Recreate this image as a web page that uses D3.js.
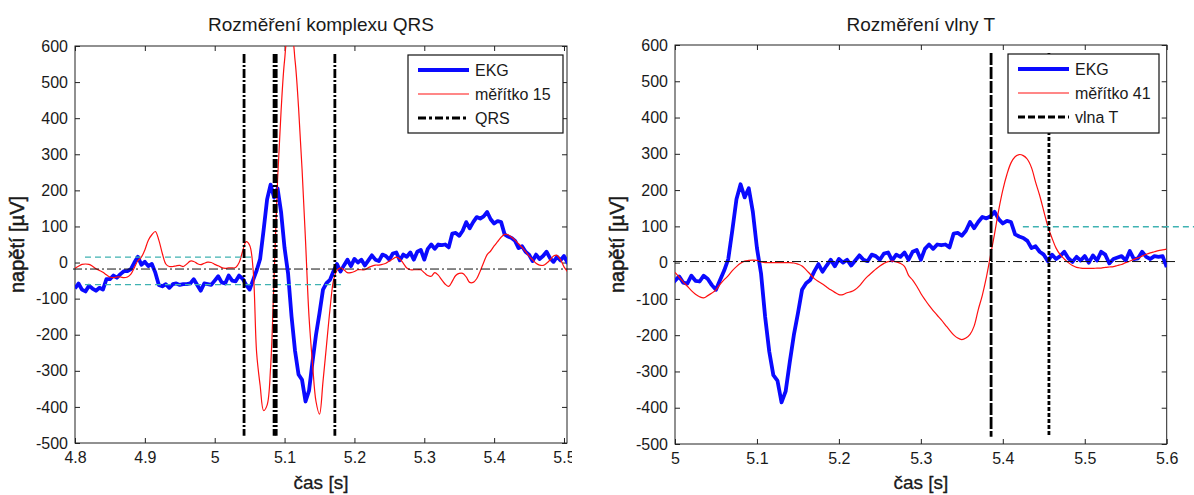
<!DOCTYPE html>
<html><head><meta charset="utf-8">
<script src="https://cdn.jsdelivr.net/npm/d3@7"></script>
<style>
body{margin:0;background:#fff}
svg{display:block}
text{font-family:"Liberation Sans",Arial,sans-serif;fill:#1a1a1a}
</style>
</head><body>
<svg id="chart" width="1194" height="495"></svg>
<script>
// ---------------- DATA ----------------
// EKG signal, sampled every 0.005 s from 4.800 s to 5.600 s (µV)
const ekgStart = 4.8;
const sampleStep = 0.005;
const ekg = [
  -72, -58, -75, -80, -64, -72, -78, -70, -75, -46,
  -46, -36, -42, -32, -24, -24, -18, 0, 16, -6,
  2, -10, -4, -28, -62, -66, -60, -70, -60, -58,
  -62, -60, -60, -58, -46, -62, -78, -58, -60, -62,
  -50, -38, -55, -58, -36, -50, -52, -36, -45, -62,
  -75, -48, -22, 10, 90, 175, 216, 180, 205, 140,
  40, -30, -150, -245, -310, -325, -385, -355, -275, -200,
  -140, -75, -57, -48, -24, -4, -25, -8, 8, -10,
  10, 0, 8, -8, 6, 20, 8, 4, 22, 18,
  8, 25, 28, 6, 22, 16, 28, 8, 30, 35,
  8, 38, 50, 38, 50, 48, 50, 42, 80, 82,
  74, 88, 112, 95, 112, 126, 122, 128, 140, 120,
  108, 115, 112, 78, 72, 68, 60, 40, 45, 30,
  22, 4, 22, 10, 18, 30, 12, 2, 16, 6,
  18, 0, 20, 6, 30, 22, -2, 10, 14, 18,
  6, 32, 10, 12, 30, 16, 10, 18, 16, 18,
  -12
];
// Wavelet detail "měřítko 15", every 0.005 s from 4.800 s
const scale15Start = 4.8;
const scale15 = [
  -16, -10, -5, -4, -5, -10, -17, -22, -27, -34,
  -40, -42, -40, -40, -42, -40, -32, -14, 5, 15,
  35, 62, 77, 86, 62, 25, -4, -11, -11, -9,
  -8, -11, -4, 4, 3, -3, -6, -2, 1, 0,
  -5, -9, -14, -16, -15, -15, -14, 0, 32, 58,
  48, -20, -250, -340, -410, -395, -290, -40, 230, 420,
  560, 625, 625, 560, 430, 260, 60, -150, -280, -385,
  -420, -330, -230, -130, -50, -22, -15, -20, -28, -28,
  -25, -20, -20, -20, -14, -10, -7, -7, -5, -2,
  4, 10, 15, 10, -2, -15, -20, -20, -20, -20,
  -28, -36, -38, -28, -35, -48, -60, -66, -52, -36,
  -30, -30, -40, -55, -55, -45, -24, 0, 22, 32,
  46, 58, 70, 78, 77, 70, 62, 52, 42, 30,
  18, 8, -2, -7, -8, -2, 7, 18, 20, 8,
  -12, -25
];
// Wavelet detail "měřítko 41", every 0.005 s from 5.000 s
const scale41Start = 5.0;
const scale41 = [
  -27, -40, -53, -65, -77, -87, -94, -97, -91, -84,
  -75, -60, -47, -36, -22, -11, -2, 4, 6, 7,
  6, 2, 0, 0, 0, 0, 0, 0, 0, -1,
  -4, -9, -20, -32, -44, -52, -59, -67, -75, -82,
  -88, -88, -83, -80, -74, -64, -50, -38, -28, -18,
  -9, -2, 3, 4, 2, -2, -10, -35, -48, -65,
  -85, -102, -118, -132, -145, -158, -172, -186, -199, -208,
  -212, -208, -198, -175, -130, -90, -40, 20, 80, 145,
  200, 243, 275, 292, 298, 295, 285, 262, 222, 185,
  142, 100, 68, 40, 22, 10, 0, -8, -13, -15,
  -16, -16, -16, -15, -15, -13, -12, -11, -8, -5,
  0, 4, 9, 13, 18, 23, 27, 30, 33, 35,
  37
];
// QRS boundaries (s) and T-wave boundaries (s)
const qrsMarks = [5.042, 5.085, 5.088, 5.172];
const tWaveMarks = [5.3857, 5.4563];
const markerSpan = [-480, 578];           // vertical extent of marker lines (µV)
// thresholds (cyan dashed) : [t start, t end, level µV]
const qrsThresholds = [[4.8143, 5.0577, 15], [4.8143, 5.1817, -61]];
const tThresholds = [[5.4245, 5.64, 99]];
const qrsBaseline = -18;                  // dash-dot reference level (µV)
const tBaseline = 3;
// axes
const yTicks = [600, 500, 400, 300, 200, 100, 0, -100, -200, -300, -400, -500];
const xTicksLeft = [4.8, 4.9, 5.0, 5.1, 5.2, 5.3, 5.4, 5.5];
const xTickLabelsLeft = ["4.8", "4.9", "5", "5.1", "5.2", "5.3", "5.4", "5.5"];
const xTicksRight = [5.0, 5.1, 5.2, 5.3, 5.4, 5.5, 5.6];
const xTickLabelsRight = ["5", "5.1", "5.2", "5.3", "5.4", "5.5", "5.6"];
const titles = ["Rozměření komplexu QRS", "Rozměření vlny T"];
const xLabel = "čas [s]";
const yLabel = "napětí [µV]";
const legendLeft = ["EKG", "měřítko 15", "QRS"];
const legendRight = ["EKG", "měřítko 41", "vlna T"];

// ---------------- DRAWING ----------------
const svg = d3.select("#chart");
const defs = svg.append("defs");

function series(start, values) {
  return values.map((v, i) => ({t: start + i * sampleStep, v}));
}

function drawPanel(o) {
  const root = svg.append("g");
  if (o.figClip) {
    defs.append("clipPath").attr("id", o.id + "-fig")
      .append("rect").attr("x", 0).attr("y", 0).attr("width", o.figClip).attr("height", 495);
    root.attr("clip-path", `url(#${o.id}-fig)`);
  }
  const x = d3.scaleLinear().domain(o.xDomain).range([o.left, o.right]);
  const y = d3.scaleLinear().domain([-500, 600]).range([o.bottom, o.top]);

  defs.append("clipPath").attr("id", o.id + "-plot")
    .append("rect").attr("x", o.left).attr("y", o.top)
    .attr("width", o.right - o.left).attr("height", o.bottom - o.top);

  // axes
  const ax = root.append("g");
  const fmtX = (d, i) => o.xTickLabels[i];
  ax.append("g").attr("transform", `translate(0,${o.bottom})`)
    .call(d3.axisBottom(x).tickValues(o.xTicks).tickFormat(fmtX).tickSize(-5).tickPadding(9));
  ax.append("g").attr("transform", `translate(0,${o.top})`)
    .call(d3.axisTop(x).tickValues(o.xTicks).tickFormat("").tickSize(-5));
  ax.append("g").attr("transform", `translate(${o.left},0)`)
    .call(d3.axisLeft(y).tickValues(yTicks).tickFormat(d => String(d)).tickSize(-5).tickPadding(7));
  ax.append("g").attr("transform", `translate(${o.right},0)`)
    .call(d3.axisRight(y).tickValues(yTicks).tickFormat("").tickSize(-5));
  ax.selectAll(".domain").remove();
  ax.selectAll(".tick line").attr("stroke", "#222").attr("stroke-width", 1);
  ax.selectAll(".tick text").attr("font-size", 16).attr("fill", "#1a1a1a")
    .style("font-family", '"Liberation Sans",Arial,sans-serif');
  root.append("rect").attr("x", o.left).attr("y", o.top)
    .attr("width", o.right - o.left).attr("height", o.bottom - o.top)
    .attr("fill", "none").attr("stroke", "#222").attr("stroke-width", 1);

  const plot = root.append("g").attr("clip-path", `url(#${o.id}-plot)`);
  const line = d3.line().x(d => x(d.t)).y(d => y(d.v));

  // EKG
  const ekgPts = series(ekgStart, ekg).filter(d => d.t >= o.xDomain[0] - 0.006 && d.t <= o.xDomain[1] + 0.006);
  plot.append("path").datum(ekgPts).attr("d", line)
    .attr("fill", "none").attr("stroke", "#0a0aff").attr("stroke-width", 3.8)
    .attr("stroke-linejoin", "round");
  // wavelet scale
  const redPts = series(o.redStart, o.red);
  plot.append("path").datum(redPts).attr("d", line.curve(d3.curveCatmullRom))
    .attr("fill", "none").attr("stroke", "#ff1010").attr("stroke-width", 1.2);
  line.curve(d3.curveLinear);

  // thresholds (not clipped, like the original)
  o.thresholds.forEach(th => {
    root.append("line").attr("x1", x(th[0])).attr("x2", x(th[1]))
      .attr("y1", y(th[2])).attr("y2", y(th[2]))
      .attr("stroke", "#3fb2b2").attr("stroke-width", 1.3).attr("stroke-dasharray", "6,4");
  });
  // baseline dash-dot
  root.append("line").attr("x1", x(o.xDomain[0]) - 2).attr("x2", o.right + 9)
    .attr("y1", y(o.baseline)).attr("y2", y(o.baseline))
    .attr("stroke", "#111").attr("stroke-width", 1).attr("stroke-dasharray", "9,3,2,3");

  // markers
  o.marks.forEach((m, i) => {
    root.append("line").attr("x1", x(m)).attr("x2", x(m))
      .attr("y1", y(markerSpan[1])).attr("y2", y(markerSpan[0]))
      .attr("stroke", "#000").attr("stroke-width", 2.8)
      .attr("stroke-dasharray", o.markDash[i]);
  });

  // legend
  const lg = root.append("g");
  const b = o.legend;
  lg.append("rect").attr("x", b.x).attr("y", b.y).attr("width", b.w).attr("height", b.h)
    .attr("fill", "#fff").attr("stroke", "#111").attr("stroke-width", 1.2);
  const styles = [
    {c: "#0a0aff", w: 3.8, d: null},
    {c: "#ff1010", w: 1.2, d: null},
    {c: "#000", w: 2.8, d: o.legendDash}
  ];
  o.legendLabels.forEach((lab, i) => {
    const yy = b.y + 15 + i * 24;
    const s = styles[i];
    lg.append("line").attr("x1", b.x + 10).attr("x2", b.x + 61).attr("y1", yy).attr("y2", yy)
      .attr("stroke", s.c).attr("stroke-width", s.w).attr("stroke-dasharray", s.d);
    lg.append("text").attr("x", b.x + 67).attr("y", yy).attr("dy", "0.36em")
      .attr("font-size", 16).text(lab);
  });

  // titles & labels
  const cx = (o.left + o.right) / 2;
  root.append("text").attr("x", cx).attr("y", 31).attr("text-anchor", "middle")
    .attr("font-size", 19).text(o.title);
  root.append("text").attr("x", cx).attr("y", 489).attr("text-anchor", "middle")
    .attr("font-size", 19).attr("stroke", "#1a1a1a").attr("stroke-width", 0.3).text(xLabel);
  root.append("text").attr("transform", `translate(${o.left - 51},${(o.top + o.bottom) / 2}) rotate(-90)`)
    .attr("text-anchor", "middle").attr("font-size", 20)
    .attr("stroke", "#1a1a1a").attr("stroke-width", 0.5).text(yLabel);
}

drawPanel({
  id: "qrs", figClip: 572,
  left: 75, right: 567, top: 46, bottom: 443,
  xDomain: [4.8, 5.5043],
  xTicks: xTicksLeft, xTickLabels: xTickLabelsLeft,
  redStart: scale15Start, red: scale15,
  thresholds: qrsThresholds, baseline: qrsBaseline,
  marks: qrsMarks, markDash: ["9,2,2,2", "9,2,2,2", "9,2,2,2", "9,2,2,2"],
  legend: {x: 408, y: 55, w: 155, h: 78}, legendLabels: legendLeft, legendDash: "8,3,3,3",
  title: titles[0]
});
drawPanel({
  id: "tw",
  left: 675, right: 1166.7, top: 45, bottom: 444,
  xDomain: [5.0, 5.6],
  xTicks: xTicksRight, xTickLabels: xTickLabelsRight,
  redStart: scale41Start, red: scale41,
  thresholds: tThresholds, baseline: tBaseline,
  marks: tWaveMarks, markDash: ["12,2", "4,2"],
  legend: {x: 1008, y: 54, w: 151, h: 79}, legendLabels: legendRight, legendDash: "7,3",
  title: titles[1]
});
</script>
</body></html>
